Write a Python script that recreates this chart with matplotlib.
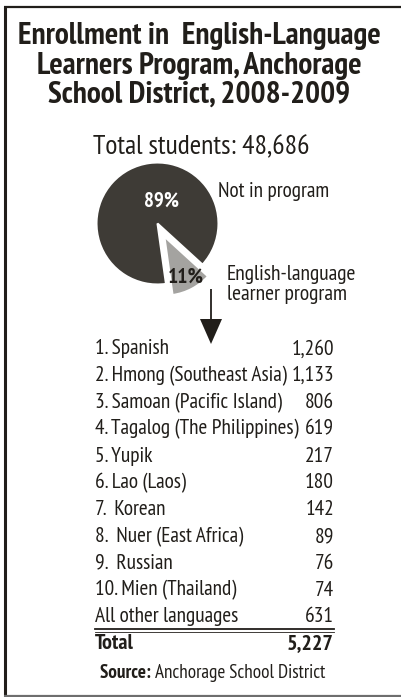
import matplotlib
matplotlib.use("Agg")
import matplotlib.pyplot as plt

# --- datos ---
title_lines = ["Enrollment in  English-Language", "Learners Program, Anchorage",
               "School District, 2008-2009"]
total_students = 48686
share_labels = ["English-language\nlearner program", "Not in program"]
shares = [11, 89]
languages = ["1. Spanish", "2. Hmong (Southeast Asia)", "3. Samoan (Pacific Island)",
             "4. Tagalog (The Philippines)", "5. Yupik", "6. Lao (Laos)", "7.  Korean",
             "8.  Nuer (East Africa)", "9.  Russian", "10. Mien (Thailand)",
             "All other languages"]
counts = [1260, 1133, 806, 619, 217, 180, 142, 89, 76, 74, 631]
total_label = "Total"
source = "Anchorage School District"

FONT = ["PT Sans Narrow", "Roboto Condensed", "Encode Sans Condensed", "DejaVu Sans"]
INK = "#211e1a"
DARK = "#3e3b36"
GRAY = "#a4a3a0"
W, H = 402, 697

plt.rcParams["font.family"] = FONT
fig = plt.figure(figsize=(W / 100, H / 100), dpi=100)
ax = fig.add_axes([0, 0, 1, 1])
ax.set_xlim(0, W); ax.set_ylim(H, 0); ax.axis("off")

# marco
ax.plot([5, 5], [6, H], color=INK, lw=2.2, solid_capstyle="butt")
ax.plot([4, W], [7, 7], color=INK, lw=1.6, solid_capstyle="butt")
ax.plot([4, W], [696, 696], color="#6e6e6e", lw=1.6, solid_capstyle="butt")

for line, yb in zip(title_lines, [43.5, 73.5, 102.5]):
    ax.text(199, yb, line, ha="center", va="baseline", fontsize=22.6, fontweight="bold",
            color=INK)
ax.text(201, 154, "Total students: {:,}".format(total_students), ha="center",
        va="baseline", fontsize=20, color=INK)

# tarta
cx, cy, r = 157.5, 223.5, 61
side = 2.5 * r
pax = fig.add_axes([(cx - side / 2) / W, (H - cy - side / 2) / H, side / W, side / H])
wedges, _ = pax.pie(shares, colors=[GRAY, DARK], startangle=-82, explode=[0.24, 0],
                    wedgeprops=dict(edgecolor="white", linewidth=1.5))
wedges[0].set_radius(0.97)
pax.set_xlim(-1.25, 1.25); pax.set_ylim(-1.25, 1.25)
pax.text(0.07, 0.37, "{}%".format(shares[1]), ha="center", va="center", color="white",
         fontsize=15, fontweight="bold")
pax.text(0.47, -0.88, "{}%".format(shares[0]), ha="center", va="center", color=INK,
         fontsize=15.5, fontweight="bold")

ax.text(218, 197, share_labels[1], ha="left", va="baseline", fontsize=15.3, color=INK)
ax.text(227, 280, share_labels[0].split("\n")[0], ha="left", va="baseline", fontsize=15.5,
        color=INK)
ax.text(227, 300, share_labels[0].split("\n")[1], ha="left", va="baseline", fontsize=15.5,
        color=INK)

# flecha hacia la lista
ax.arrow(211, 289, 0, 55, width=1.8, head_width=22, head_length=25,
         length_includes_head=True, color=INK, lw=0)

# lista
x0, x1, y0, dy = 95, 334, 354.3, 26.8
for i, (lang, n) in enumerate(zip(languages, counts)):
    y = y0 + i * dy
    ax.text(x0, y, lang, ha="left", va="baseline", fontsize=15.4, color=INK)
    ax.text(x1, y, "{:,}".format(n), ha="right", va="baseline", fontsize=15.4, color=INK)
yt = y0 + len(languages) * dy
ax.plot([x0, x1], [yt - 20, yt - 20], color=INK, lw=1.3)
ax.plot([x0, x1], [yt - 17.5, yt - 17.5], color=INK, lw=0.6)
ax.text(x0, yt, total_label, ha="left", va="baseline", fontsize=15.8, fontweight="bold", color=INK)
ax.text(x1, yt, "{:,}".format(sum(counts)), ha="right", va="baseline", fontsize=15.8,
        fontweight="bold", color=INK)

t = ax.text(100, 678, "Source: ", ha="left", va="baseline", fontsize=13.8, fontweight="bold",
            color=INK)
ax.annotate(source, xy=(1, 0), xycoords=t, ha="left", va="bottom", fontsize=13.8, color=INK)

fig.savefig("out.png", dpi=100)
